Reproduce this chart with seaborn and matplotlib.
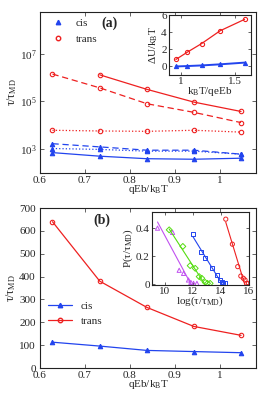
import numpy as np
import pandas as pd
import matplotlib
matplotlib.use("Agg")
import matplotlib.pyplot as plt
from matplotlib.lines import Line2D
import seaborn as sns

# ---- data -------------------------------------------------------------
qeb = [0.628, 0.733, 0.838, 0.942, 1.047]

# panel (a), log scale
a_trans_solid = [np.nan, 1.3e6, 3.2e5, 9.4e4, 3.8e4]
a_trans_dashed = [1.4e6, 3.7e5, 8.0e4, 3.5e4, 1.3e4]
a_trans_dotted = [6.2e3, 5.8e3, 5.6e3, 6.2e3, 5.2e3]
a_cis_dashed = [1.7e3, 1.25e3, 9.1e2, 9.1e2, 6.2e2]
a_cis_dotted = [1.07e3, 9.8e2, 8.3e2, 8.3e2, 6.2e2]
a_cis_solid = [7.2e2, 5.1e2, 4.0e2, 3.8e2, 4.2e2]

# inset (a): barrier vs kBT/qeEb
inset_a_x = [0.955, 1.062, 1.193, 1.364, 1.592]
inset_a_trans = [0.82, 1.68, 2.67, 4.16, 5.5]
inset_a_cis = [0.0, 0.05, 0.12, 0.25, 0.45]

# panel (b), linear scale
b_trans = [640, 380, 265, 182, 143]
b_cis = [113, 96, 77, 72, 67]

# inset (b): distributions P(tau) vs log(tau)
purple_x = [9.50, 10.57, 11.04, 11.35, 11.70, 11.87, 12.06, 12.30]
purple_y = [0.40, 0.37, 0.10, 0.078, 0.031, 0.014, 0.007, 0.007]
green_x = [10.33, 11.30, 11.82, 12.18, 12.46, 12.65, 12.89, 13.05, 13.24]
green_y = [0.388, 0.27, 0.133, 0.114, 0.055, 0.043, 0.014, 0.007, 0.007]
blue_x = [12.01, 12.60, 12.89, 13.40, 13.71, 13.95, 14.07, 14.18, 14.30]
blue_y = [0.357, 0.229, 0.186, 0.114, 0.067, 0.031, 0.014, 0.009, 0.007]
red_x = [14.35, 14.82, 15.20, 15.42, 15.60, 15.72, 15.84, 15.96]
red_y = [0.464, 0.286, 0.126, 0.059, 0.043, 0.031, 0.007, 0.007]

RED = "#ee2020"
BLUE = "#2244ee"
GREEN = "#55dd11"
PURPLE = "#c050f0"

sns.set_style("ticks")
plt.rcParams["font.family"] = ["Liberation Serif", "DejaVu Serif"]
plt.rcParams["mathtext.fontset"] = "custom"
plt.rcParams["mathtext.rm"] = "Liberation Serif"
plt.rcParams["mathtext.it"] = "Liberation Serif:italic"
plt.rcParams["xtick.direction"] = "in"
plt.rcParams["ytick.direction"] = "in"
plt.rcParams["xtick.top"] = True
plt.rcParams["ytick.right"] = True
plt.rcParams["xtick.major.size"] = 3
plt.rcParams["ytick.major.size"] = 3
plt.rcParams["xtick.major.width"] = 0.5
plt.rcParams["ytick.major.width"] = 0.5
plt.rcParams["axes.linewidth"] = 0.8
plt.rcParams["axes.edgecolor"] = "#222222"

FS = 8
fig = plt.figure(figsize=(2.66, 3.97), dpi=100)

ax_a = fig.add_axes([0.150, 0.564, 0.812, 0.406])
ax_b = fig.add_axes([0.150, 0.073, 0.812, 0.403])
ins_a = fig.add_axes([0.635, 0.811, 0.308, 0.151])
ins_b = fig.add_axes([0.571, 0.282, 0.365, 0.184])


def line(ax, x, y, color, ls="-", marker="o", filled=False, lw=0.9, ms=3.2):
    df = pd.DataFrame({"x": x, "y": y}).dropna()
    sns.lineplot(data=df, x="x", y="y", ax=ax, color=color, linestyle=ls,
                 linewidth=lw, marker=marker, markersize=ms,
                 markerfacecolor=color if filled else "none",
                 markeredgecolor=color, markeredgewidth=0.8, sort=False)


# ---- panel (a) ----
line(ax_a, qeb, a_trans_solid, RED, "-")
line(ax_a, qeb, a_trans_dashed, RED, (0, (5, 3)))
line(ax_a, qeb, a_trans_dotted, RED, ":")
line(ax_a, qeb, a_cis_dashed, BLUE, (0, (5, 3)), "^", True)
line(ax_a, qeb, a_cis_dotted, BLUE, ":", "^", True)
line(ax_a, qeb, a_cis_solid, BLUE, "-", "^", True)
ax_a.set_yscale("log")
ax_a.set_xlim(0.6, 1.08)
ax_a.set_ylim(1e2, 5.6e8)
ax_a.set_yticks([1e3, 1e5, 1e7])
ax_a.set_yticklabels(["$10^{3}$", "$10^{5}$", "$10^{7}$"])
ax_a.minorticks_off()
ax_a.set_xticks([0.6, 0.7, 0.8, 0.9, 1.0])
ax_a.set_xticklabels(["0.6", "0.7", "0.8", "0.9", "1"])
ax_a.set_xlabel(r"qEb/k$_{\rm B}$T", fontsize=FS, labelpad=-1)
ax_a.set_ylabel(r"τ/τ$_{\rm MD}$", fontsize=FS + 0.5, labelpad=1)
ax_a.tick_params(labelsize=FS, pad=2)
ax_a.text(0.324, 0.93, "(a)", transform=ax_a.transAxes, fontsize=10,
          fontweight="bold", ha="center", va="center")
h_a = [Line2D([], [], color=BLUE, marker="^", ls="none", ms=3.2, mfc=BLUE),
       Line2D([], [], color=RED, marker="o", ls="none", ms=3.2, mfc="none")]
ax_a.legend(h_a, ["cis", "trans"], loc="upper left", bbox_to_anchor=(0.0, 1.025),
            frameon=False, fontsize=FS, handlelength=1.5, labelspacing=0.55)

# ---- inset (a) ----
line(ins_a, inset_a_x, inset_a_trans, RED, "-", "o", ms=3)
line(ins_a, inset_a_x, inset_a_cis, BLUE, "-", "^", True, lw=1.4, ms=3)
ins_a.set_xlim(0.89, 1.65)
ins_a.set_ylim(-1, 6)
ins_a.set_xticks([1, 1.5])
ins_a.set_xticklabels(["1", "1.5"])
ins_a.set_yticks([0, 2, 4, 6])
ins_a.tick_params(labelsize=FS, pad=1.5, length=2.5)
ins_a.set_xlabel(r"k$_{\rm B}$T/qeEb", fontsize=FS, labelpad=-1)
ins_a.set_ylabel(r"ΔU/k$_{\rm B}$T", fontsize=FS, labelpad=1)

# ---- panel (b) ----
line(ax_b, qeb, b_trans, RED, "-", "o")
line(ax_b, qeb, b_cis, BLUE, "-", "^", True)
ax_b.set_xlim(0.6, 1.08)
ax_b.set_ylim(0, 700)
ax_b.set_yticks(range(0, 701, 100))
ax_b.set_xticks([0.6, 0.7, 0.8, 0.9, 1.0])
ax_b.set_xticklabels(["0.6", "0.7", "0.8", "0.9", "1"])
ax_b.set_xlabel(r"qEb/k$_{\rm B}$T", fontsize=FS, labelpad=-1)
ax_b.set_ylabel(r"τ/τ$_{\rm MD}$", fontsize=FS + 0.5, labelpad=1)
ax_b.tick_params(labelsize=FS, pad=2)
ax_b.tick_params(axis="y", pad=3)
ax_b.text(0.287, 0.925, "(b)", transform=ax_b.transAxes, fontsize=10,
          fontweight="bold", ha="center", va="center")
h_b = [Line2D([], [], color=BLUE, marker="^", lw=0.9, ms=3.2, mfc=BLUE),
       Line2D([], [], color=RED, marker="o", lw=0.9, ms=3.2, mfc="none")]
ax_b.legend(h_b, ["cis", "trans"], loc="center left", bbox_to_anchor=(-0.01, 0.34),
            frameon=False, fontsize=FS, handlelength=2.2, labelspacing=0.5)

# ---- inset (b) ----
groups = [(purple_x, purple_y, PURPLE, "^"), (green_x, green_y, GREEN, "D"),
          (blue_x, blue_y, BLUE, "s"), (red_x, red_y, RED, "o")]
for gx, gy, col, mk in groups:
    gx = np.array(gx)
    gy = np.array(gy)
    sns.scatterplot(x=gx, y=gy, ax=ins_b, marker=mk, s=9, facecolor="none",
                    edgecolor=col, linewidth=0.7)
    keep = gy > 0.02
    slope, icpt = np.polyfit(gx[keep], gy[keep], 1)
    xf = np.array([gx.min(), -icpt / slope])
    sns.lineplot(x=xf, y=slope * xf + icpt, ax=ins_b, color=col, linewidth=0.8)
ins_b.set_xlim(9.1, 16)
ins_b.set_ylim(-0.005, 0.515)
ins_b.set_xticks([10, 12, 14, 16])
ins_b.set_yticks([0, 0.2, 0.4])
ins_b.set_yticklabels(["0", "0.2", "0.4"])
ins_b.tick_params(labelsize=FS, pad=1.5, length=2.5)
ins_b.set_xlabel(r"log(τ/τ$_{\rm MD}$)", fontsize=FS, labelpad=-1)
ins_b.set_ylabel(r"P(τ/τ$_{\rm MD}$)", fontsize=FS, labelpad=1)

fig.savefig("out.png", dpi=100)
